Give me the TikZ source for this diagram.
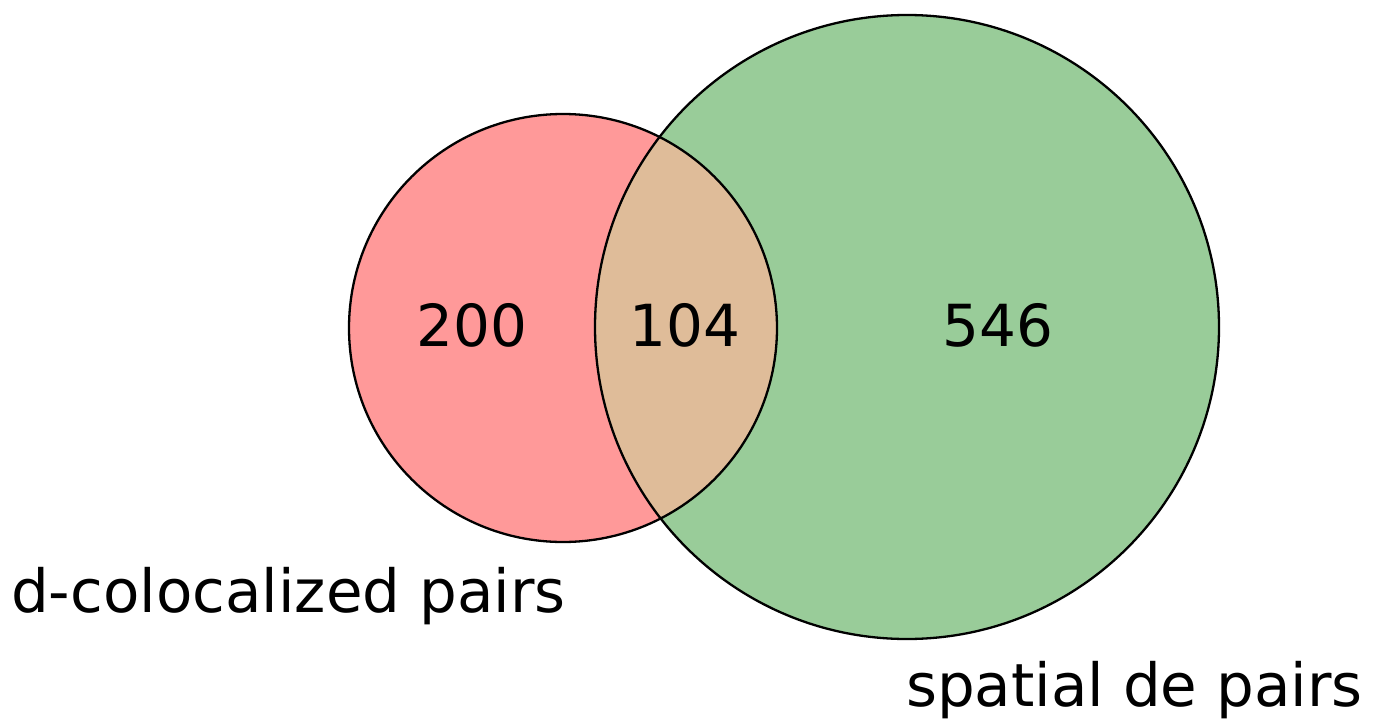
\documentclass[tikz,border=0pt]{standalone}
\usepackage{fontspec}
\setmainfont{DejaVu Sans}
\definecolor{setA}{RGB}{255,153,153}
\definecolor{setB}{RGB}{153,204,153}
\definecolor{setAB}{RGB}{223,188,153}
\begin{document}
\begin{tikzpicture}[x=1pt,y=-1pt,
  numlabel/.style={font=\fontsize{58}{62}\selectfont, anchor=center, inner sep=0pt},
  setlabel/.style={font=\fontsize{59.5}{64}\selectfont, anchor=base west, inner sep=0pt},
  ring/.style={draw=black, line width=2.3pt}]
\useasboundingbox (0,0) rectangle (1382,723);
\fill[setA] (563,328) circle (214);
\fill[setB] (907,327) circle (312);
\begin{scope}
  \clip (563,328) circle (214);
  \fill[setAB] (907,327) circle (312);
\end{scope}
\node[circle, ring, minimum size=428pt, inner sep=0pt] (A) at (563,328) {};
\node[circle, ring, minimum size=624pt, inner sep=0pt] (B) at (907,327) {};
\node[numlabel] (nA) at (472,325) {200};
\node[numlabel] (nAB) at (685,325) {104};
\node[numlabel] (nB) at (998,325) {546};
\node[setlabel] (lA) at (11,612) {d-colocalized pairs};
\node[setlabel] (lB) at (906,706) {spatial de pairs};
\end{tikzpicture}
\end{document}
